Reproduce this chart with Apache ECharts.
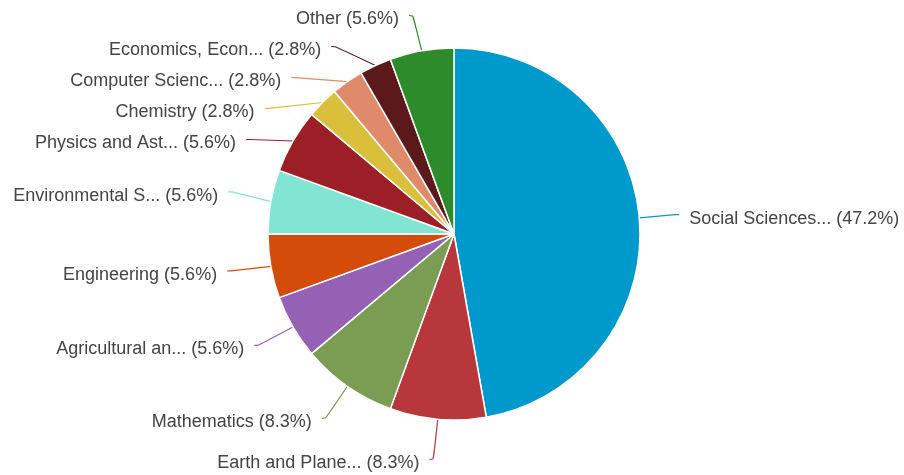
<!DOCTYPE html>
<html><head><meta charset="utf-8">
<script src="https://cdn.jsdelivr.net/npm/echarts@6/dist/echarts.min.js"></script>
<style>html,body{margin:0;padding:0;background:#fff}#c{width:904px;height:475px}</style>
</head><body><div id="c"></div>
<script>
const categories = ["Social Sciences...", "Earth and Plane...", "Mathematics", "Agricultural an...", "Engineering", "Environmental S...", "Physics and Ast...", "Chemistry", "Computer Scienc...", "Economics, Econ...", "Other"];
const values = [17, 3, 3, 2, 2, 2, 2, 1, 1, 1, 2];
const colors = ["#0099CC", "#B8373D", "#7B9D53", "#9461B4", "#D44C0A", "#82E5D3", "#9C1F27", "#DAC03A", "#E08A6C", "#5C191C", "#2E8B2B"];

const total = values.reduce((a, b) => a + b, 0);
const chart = echarts.init(document.getElementById('c'));
chart.setOption({
  animation: false,
  series: [{
    type: 'pie',
    center: [454, 234],
    radius: 186,
    startAngle: 90,
    clockwise: true,
    itemStyle: { borderColor: '#fff', borderWidth: 1.5 },
    label: {
      show: true,
      fontFamily: 'Liberation Sans, Arial, sans-serif',
      fontSize: 18,
      lineHeight: 29,
      color: '#444',
      distanceToLabelLine: 10,
      formatter: p => p.name + ' (' + (p.value / total * 100).toFixed(1) + '%)'
    },
    labelLayout: { dy: 4 },
    labelLine: { show: true, length: 50, length2: 4, smooth: 0.3, lineStyle: { width: 1.2 } },
    data: categories.map((n, i) => ({
      name: n, value: values[i],
      itemStyle: { color: colors[i] },
      label: i === 0 ? { width: 230 } : {},
      labelLine: i === 0 ? { length: 36, lineStyle: { color: colors[i] } } : { lineStyle: { color: colors[i] } }
    }))
  }]
});
</script></body></html>
